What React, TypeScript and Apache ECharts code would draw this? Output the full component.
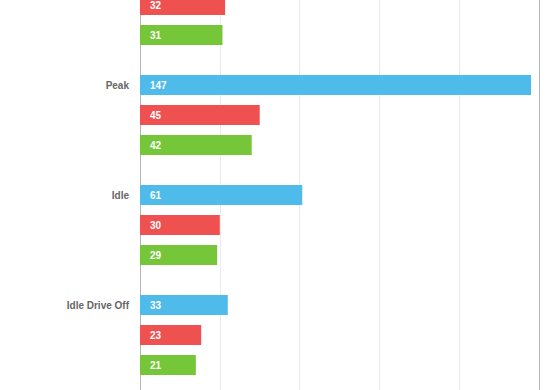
import React, { useEffect, useRef } from "react";
import * as echarts from "echarts";

const categories = ["", "Peak", "Idle", "Idle Drive Off"];
const seriesBlue: (number | null)[] = [null, 147, 61, 33];
const seriesRed = [32, 45, 30, 23];
const seriesGreen = [31, 42, 29, 21];
const xTicks = { min: 0, max: 150, interval: 30 };

const COLORS = ["#4FBBEB", "#EF5050", "#76C63A"];
const FONT = "Liberation Sans, Arial, sans-serif";

export default function App() {
  const ref = useRef<HTMLDivElement>(null);
  useEffect(() => {
    if (!ref.current) return;
    const chart = echarts.init(ref.current, undefined, { renderer: "svg" });
    const label = {
      show: true,
      position: "insideLeft" as const,
      distance: 10,
      color: "#fff",
      fontWeight: "bold" as const,
      fontSize: 10,
      fontFamily: FONT,
    };
    const mk = (name: string, data: (number | null)[], color: string) => ({
      type: "bar" as const,
      name,
      data,
      barWidth: 20,
      barGap: "50%",
      itemStyle: { color },
      label,
    });
    chart.setOption({
      animation: false,
      grid: { left: 140, right: 21, top: 50, bottom: 30 },
      xAxis: {
        type: "value",
        min: xTicks.min,
        max: xTicks.max,
        interval: xTicks.interval,
        axisLabel: { show: false },
        axisLine: { show: false },
        axisTick: { show: false },
        splitLine: { show: true, lineStyle: { color: "#ebebeb", width: 1 } },
      },
      yAxis: [
        {
          type: "category",
          data: categories,
          inverse: true,
          axisLine: { show: true, lineStyle: { color: "#b5b5b5", width: 1 } },
          axisTick: { show: false },
          axisLabel: {
            margin: 11,
            formatter: (v: string) => `{a|${v}}\n{s|}`,
            rich: {
              a: {
                color: "#666",
                fontSize: 10,
                fontWeight: "bold",
                fontFamily: FONT,
                lineHeight: 12,
                align: "right",
              },
              s: { lineHeight: 60, fontSize: 10 },
            },
          },
        },
        {
          type: "category",
          data: categories,
          inverse: true,
          position: "right",
          axisLine: { show: true, lineStyle: { color: "#b5b5b5", width: 1 } },
          axisTick: { show: false },
          axisLabel: { show: false },
        },
      ],
      series: [
        mk("A", seriesBlue, COLORS[0]),
        mk("B", seriesRed, COLORS[1]),
        mk("C", seriesGreen, COLORS[2]),
      ],
    });
    return () => chart.dispose();
  }, []);
  return (
    <div
      style={{
        position: "fixed",
        left: 0,
        top: -100,
        width: 560,
        height: 520,
        background: "#fff",
      }}
    >
      <div ref={ref} style={{ width: 560, height: 520 }} />
    </div>
  );
}
